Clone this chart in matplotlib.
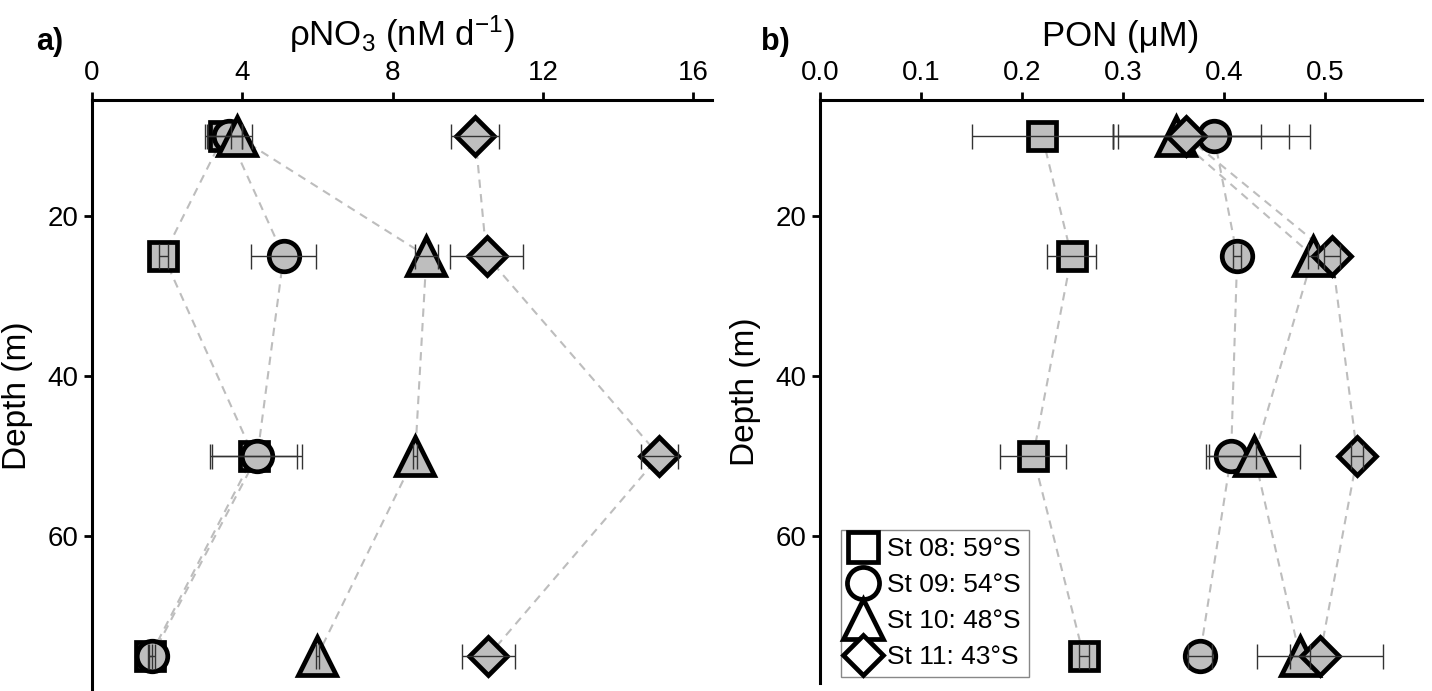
import matplotlib
matplotlib.use("Agg")
import matplotlib.pyplot as plt
from matplotlib.lines import Line2D

plt.rcParams['font.family'] = ['Liberation Sans', 'DejaVu Sans']
plt.rcParams['mathtext.default'] = 'regular'

# depths (m)
depth = [10, 25, 50, 75]

stations = ['St 08: 59°S', 'St 09: 54°S', 'St 10: 48°S', 'St 11: 43°S']
markers = ['s', 'o', '^', 'D']
msizes = [20, 22, 28, 19.5]

# panel a: rhoNO3 (nM d-1)
no3_st08 = [3.5, 1.9, 4.3, 1.55]
no3_st09 = [3.65, 5.1, 4.4, 1.6]
no3_st10 = [3.85, 8.9, 8.6, 6.0]
no3_st11 = [10.2, 10.5, 15.1, 10.55]
no3_err_st08 = [0.5, 0.12, 1.15, 0.05]
no3_err_st09 = [0.6, 0.87, 1.2, 0.08]
no3_err_st10 = [0.15, 0.3, 0.05, 0.05]
no3_err_st11 = [0.64, 0.96, 0.5, 0.7]

# panel b: PON (uM), lower / upper error
pon_st08 = [0.22, 0.249, 0.211, 0.261]
pon_st09 = [0.39, 0.413, 0.407, 0.376]
pon_st10 = [0.352, 0.488, 0.43, 0.475]
pon_st11 = [0.362, 0.507, 0.532, 0.495]
pon_lo_st08 = [0.07, 0.024, 0.033, 0.005]
pon_hi_st08 = [0.07, 0.024, 0.033, 0.005]
pon_lo_st09 = [0.095, 0.004, 0.025, 0.012]
pon_hi_st09 = [0.095, 0.004, 0.025, 0.012]
pon_lo_st10 = [0.062, 0.005, 0.045, 0.01]
pon_hi_st10 = [0.085, 0.005, 0.045, 0.01]
pon_lo_st11 = [0.072, 0.008, 0.006, 0.062]
pon_hi_st11 = [0.102, 0.008, 0.006, 0.062]

no3 = [no3_st08, no3_st09, no3_st10, no3_st11]
no3_err = [no3_err_st08, no3_err_st09, no3_err_st10, no3_err_st11]
pon = [pon_st08, pon_st09, pon_st10, pon_st11]
pon_err = [[pon_lo_st08, pon_hi_st08], [pon_lo_st09, pon_hi_st09],
           [pon_lo_st10, pon_hi_st10], [pon_lo_st11, pon_hi_st11]]

fig = plt.figure(figsize=(14.32, 6.91), dpi=100)
ax1 = fig.add_axes([92/1432, 0.0, 620/1432, 591/691])
ax2 = fig.add_axes([820/1432, 8/691, 602/1432, 583/691])


def draw(ax, xs, errs):
    for i in range(4):
        ax.plot(xs[i], depth, color='#bdbdbd', ls=(0, (4, 3)), lw=1.5, zorder=1)
    for i in range(4):
        ax.plot(xs[i], depth, ls='none', marker=markers[i], ms=msizes[i],
                mfc='#bebebe', mec='black', mew=3.4, zorder=2 + i)
    for i in range(4):
        ax.errorbar(xs[i], depth, xerr=errs[i], fmt='none', ecolor='#333333',
                    elinewidth=1, capsize=9, capthick=1, zorder=10)


draw(ax1, no3, no3_err)
draw(ax2, pon, pon_err)

for ax in (ax1, ax2):
    ax.xaxis.tick_top()
    ax.xaxis.set_label_position('top')
    ax.spines['bottom'].set_visible(False)
    ax.spines['right'].set_visible(False)
    ax.spines['top'].set_linewidth(2.2)
    ax.spines['left'].set_linewidth(2.2)
    ax.tick_params(axis='both', length=6, width=2, labelsize=20, pad=4)
    ax.set_yticks([20, 40, 60])
    ax.set_ylabel('Depth (m)', fontsize=24, labelpad=10)

ax1.set_xlim(0, 16.5)
ax1.set_ylim(79.4, 5.5)
ax1.set_xticks([0, 4, 8, 12, 16])
ax1.set_xlabel(r'ρNO$_3$ (nM d$^{-1}$)', fontsize=25, labelpad=10)

ax2.set_xlim(0, 0.596)
ax2.set_ylim(78.4, 5.5)
ax2.set_xticks([0.0, 0.1, 0.2, 0.3, 0.4, 0.5])
ax2.set_xticklabels(['0.0', '0.1', '0.2', '0.3', '0.4', '0.5'])
ax2.set_xlabel('PON (μM)', fontsize=25, labelpad=10)

fig.text(50/1432, 1 - 42/691, 'a)', fontsize=22, fontweight='bold', ha='center', va='center')
fig.text(775/1432, 1 - 42/691, 'b)', fontsize=22, fontweight='bold', ha='center', va='center')

handles = [Line2D([], [], ls='none', marker=markers[i], ms=msizes[i] * 1.05,
                  mfc='white', mec='black', mew=3.4) for i in range(4)]
leg = ax2.legend(handles, stations, loc='lower left',
                 bbox_to_anchor=(21/602, 6/583), fontsize=19, frameon=True,
                 fancybox=False, edgecolor='#888888', framealpha=1,
                 handlelength=1.1, handletextpad=0.35, labelspacing=0.45,
                 borderpad=0.3, borderaxespad=0)
leg.get_frame().set_linewidth(1)

fig.savefig('out.png', dpi=100)
